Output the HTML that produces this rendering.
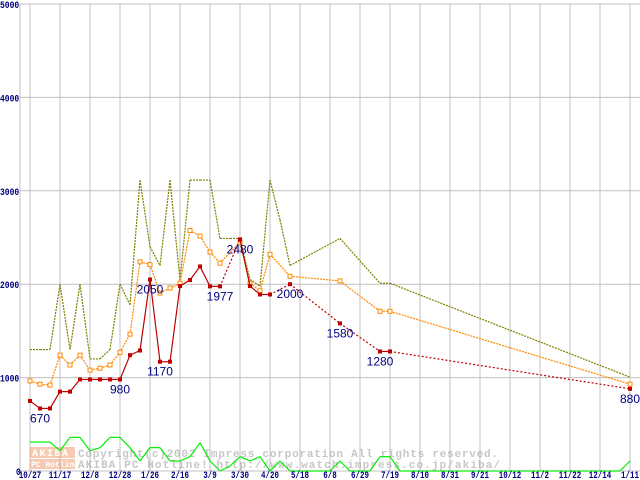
<!DOCTYPE html>
<html><head><meta charset="utf-8"><style>
html,body{margin:0;padding:0;background:#fff;}
svg{display:block;font-family:"Liberation Mono","DejaVu Sans Mono",monospace;}
</style></head><body>
<svg id="chart" width="640" height="480" viewBox="0 0 640 480">
<g id="grid"></g>
<g id="wm" opacity="0.55">
<rect x="30" y="447" width="45" height="11" fill="#f0a070"/>
<text x="32" y="456" font-size="10" font-weight="bold" fill="#fff" letter-spacing="1.5">AKIBA</text>
<rect x="30" y="459" width="45" height="10" fill="#f0a070"/>
<text x="31" y="467" font-size="8" font-weight="bold" fill="#fff">PC Hotline!</text>
<text x="78" y="457" font-size="11" font-weight="bold" fill="#999" textLength="420">Copyright(c)2002 Impress corporation All rights reserved.</text>
<text x="78" y="468" font-size="11" font-weight="bold" fill="#999" textLength="422">AKIBA PC Hotline!  http://www.watch.impress.co.jp/akiba/</text>
</g>
<g id="series"></g>
<g id="labels"></g>
</svg>
<script>
const xLabels=["10/27","11/17","12/8","12/28","1/26","2/16","3/9","3/30","4/20","5/18","6/8","6/29","7/19","8/10","8/31","9/21","10/12","11/2","11/22","12/14","1/11"];
const yTicks=[0,1000,2000,3000,4000,5000];
// week indices (0 = 10/27), null = no data
const minPrice=[750,670,670,850,850,980,980,980,980,980,1240,1290,2050,1170,1170,1980,2045,2190,1977,1977,null,2480,1980,1890,1890,null,2000,null,null,null,null,1580,null,null,null,1280,1280,null,null,null,null,null,null,null,null,null,null,null,null,null,null,null,null,null,null,null,null,null,null,null,880];
const avgPrice=[965,930,920,1240,1135,1240,1080,1100,1135,1270,1465,2240,2210,1905,1960,2010,2575,2515,2345,2225,null,2450,2010,1930,2320,null,2085,null,null,null,null,2035,null,null,null,1710,1710,null,null,null,null,null,null,null,null,null,null,null,null,null,null,null,null,null,null,null,null,null,null,null,930];
const maxPrice=[1300,1300,1300,2000,1300,2000,1200,1200,1300,2000,1780,3115,2400,2200,3115,2040,3115,3115,3115,2490,2490,2490,2050,1980,3115,2690,2200,null,null,null,null,2490,null,null,null,2010,2010,null,null,null,null,null,null,null,null,null,null,null,null,null,null,null,null,null,null,null,null,null,null,null,1005];
const shopCount=[310,310,310,217,360,360,217,250,360,360,250,107,250,250,107,107,153,303,107,0,53,153,107,153,0,107,0,0,0,0,0,107,0,0,0,153,153,0,0,0,0,0,0,0,0,0,0,0,0,0,0,0,0,0,0,0,0,0,0,0,107];
const labelIdx=[1,9,12,13,19,21,26,31,35,60];
const labelText=["670","980","2050","1170","1977","2480","2000","1580","1280","880"];

const NS="http://www.w3.org/2000/svg";
const X=i=>30+10*i;
const Y=v=>471-v*0.0934;
const grid=document.getElementById('grid'),ser=document.getElementById('series'),lab=document.getElementById('labels');
function mk(tag,attrs,parent){const e=document.createElementNS(NS,tag);for(const k in attrs)e.setAttribute(k,attrs[k]);parent.appendChild(e);return e;}
yTicks.forEach(t=>{
 const l=mk('line',{x1:20,x2:640,y1:Y(t),y2:Y(t),stroke:'#c0c0c0','stroke-width':1},grid);
 
 
 const s=String(t);
 const tx=mk('text',{x:t===0?16:0,y:Y(t)+4,'font-size':10,'font-weight':'bold',fill:'#000080',textLength:s.length*4.8,lengthAdjust:'spacingAndGlyphs'},lab);
 tx.textContent=s;
 
 
});
mk('line',{x1:20,x2:20,y1:4,y2:471,stroke:'#c0c0c0'},grid);
xLabels.forEach((s,k)=>{
 const x=X(k*3);
 const l=mk('line',{x1:x,x2:x,y1:4,y2:471,stroke:'#c0c0c0'},grid);
 
 
 const tx=mk('text',{x:x,y:478,'font-size':10,'font-weight':'bold',fill:'#000080','text-anchor':'middle',textLength:s.length*4.5,lengthAdjust:'spacingAndGlyphs'},lab);
 tx.textContent=s;
 
 
});
function drawSeries(arr,color,dashSolid,dashGap,name,marker){
 const pts=[];arr.forEach((v,i)=>{if(v!=null)pts.push([i,v]);});
 for(let j=1;j<pts.length;j++){
  const [i0,v0]=pts[j-1],[i1,v1]=pts[j];
  const consec=(i1-i0===1);
  const d=consec?dashSolid:dashGap;
  const a={x1:X(i0),y1:Y(v0),x2:X(i1),y2:Y(v1),stroke:color,'stroke-width':1.2};
  if(d)a['stroke-dasharray']=d;
  const l=mk('line',a,ser);
  
  
 }
 if(marker)pts.forEach(([i,v])=>{
  const r=marker==='filled'?mk('rect',{x:X(i)-2,y:Y(v)-2,width:4,height:4,fill:color},ser):mk('rect',{x:X(i)-2,y:Y(v)-2,width:4,height:4,fill:'#fff',stroke:color,'stroke-width':1},ser);
  
  
 });
}
drawSeries(shopCount,'#00ee00',null,null,'shop-count',null);
drawSeries(maxPrice,'#808000','2,1','2,1','max-price',null);
drawSeries(avgPrice,'#ff8800','2,1','2,1','avg-price','open');
drawSeries(minPrice,'#c00000',null,'2,2','min-price','filled');
labelIdx.forEach((i,k)=>{
 const tx=mk('text',{x:X(i),y:Y(minPrice[i])+14,'font-size':12,fill:'#000080','text-anchor':'middle','font-family':'Liberation Sans, sans-serif'},lab);
 tx.textContent=labelText[k];
 
 
});
</script>
</body></html>
